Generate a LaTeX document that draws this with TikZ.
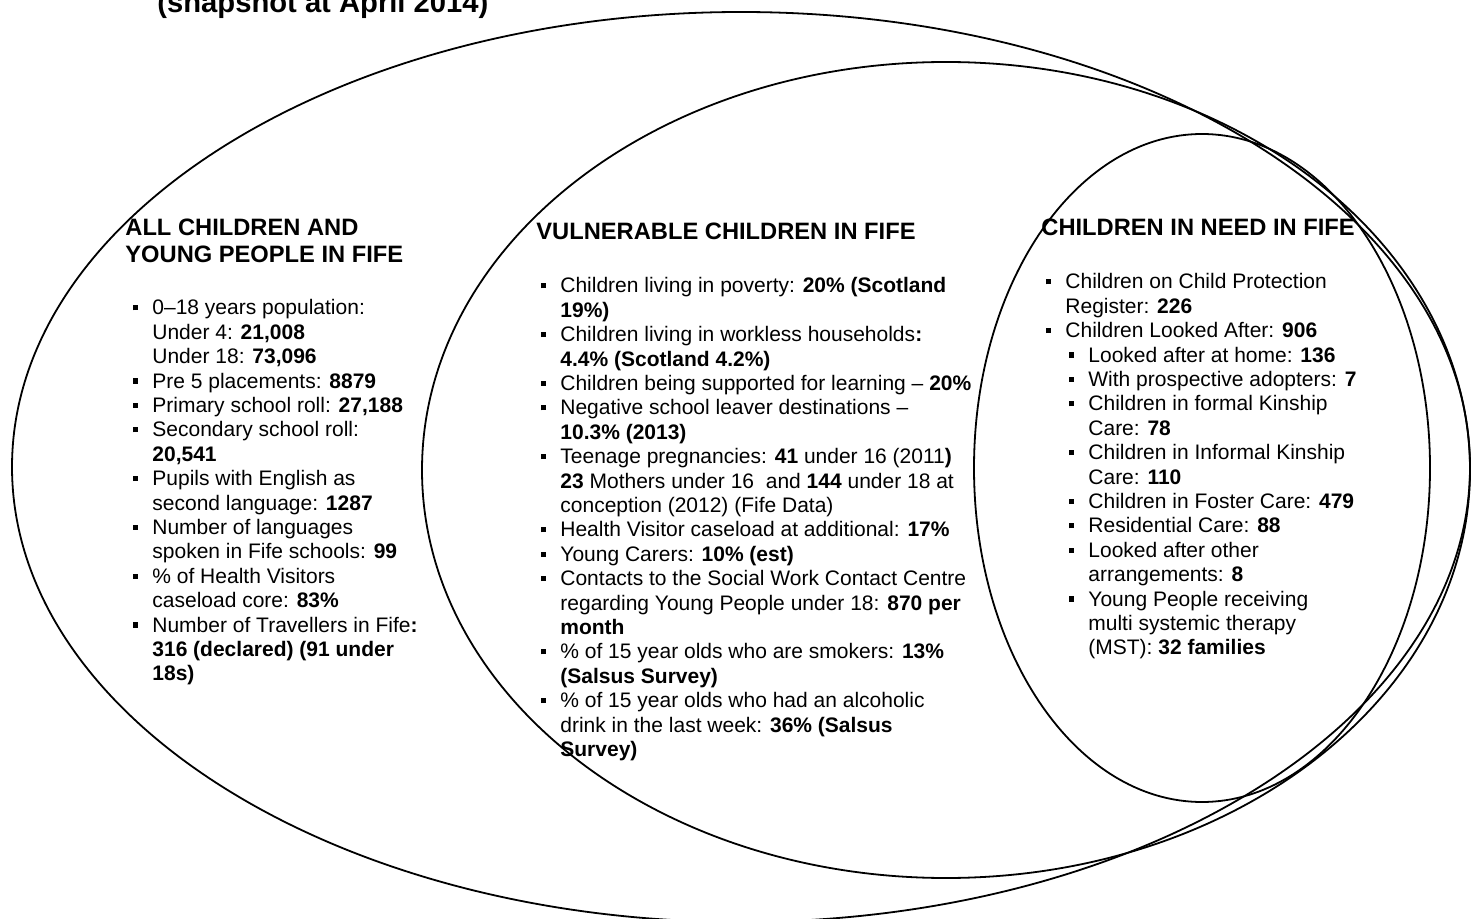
\documentclass[tikz,border=0pt]{standalone}
\usepackage{fontspec}
\setmainfont{Liberation Sans}
\newcommand{\bl}{\leavevmode\llap{\rule[2.3pt]{2.6pt}{2.6pt}\hspace{7.3pt}}}
\newcommand{\subin}{\hspace*{11.5pt}}
\begin{document}
\begin{tikzpicture}[x=0.5pt,y=-0.5pt,
  ring/.style={line width=0.9pt},
  bodytext/.style={anchor=base west, inner sep=0pt, font=\fontsize{10.5}{12.2}\selectfont},
  headtext/.style={anchor=base west, inner sep=0pt, font=\bfseries\fontsize{11.85}{13.5}\selectfont}]
\clip (0,0) rectangle (1472,919);
\fill[white] (0,0) rectangle (1472,919);
% ellipses
\draw[ring] (741,467) ellipse [x radius=364.5pt, y radius=227.5pt];
\draw[ring] (946,470) ellipse [x radius=262pt, y radius=204pt];
\draw[ring] (1202,468) ellipse [x radius=114pt, y radius=167pt];
% title
\node[anchor=base west, inner sep=0pt, font=\bfseries\fontsize{14.6}{17}\selectfont] (title) at (157,13) {(snapshot at April 2014)};
% headings
\node[headtext] (hall) at (125,236) {\parbox[t]{200pt}{\raggedright ALL CHILDREN AND\\YOUNG PEOPLE IN FIFE}};
\node[headtext] (hvul) at (536,240) {VULNERABLE CHILDREN IN FIFE};
\node[headtext] (hneed) at (1041,236) {CHILDREN IN NEED IN FIFE};
% left list
\node[bodytext] (lall) at (152,315) {\parbox[t]{170pt}{\raggedright
\bl 0–18 years population:\\
Under 4: \textbf{21,008}\\
Under 18: \textbf{73,096}\\
\bl Pre 5 placements: \textbf{8879}\\
\bl Primary school roll: \textbf{27,188}\\
\bl Secondary school roll:\\
\textbf{20,541}\\
\bl Pupils with English as\\
second language: \textbf{1287}\\
\bl Number of languages\\
spoken in Fife schools: \textbf{99}\\
\bl \% of Health Visitors\\
caseload core: \textbf{83\%}\\
\bl Number of Travellers in Fife\textbf{:}\\
\textbf{316 (declared) (91 under}\\
\textbf{18s)}}};
% middle list
\node[bodytext] (lvul) at (560,293) {\parbox[t]{240pt}{\raggedright
\bl Children living in poverty: \textbf{20\% (Scotland}\\
\textbf{19\%)}\\
\bl Children living in workless households\textbf{:}\\
\textbf{4.4\% (Scotland 4.2\%)}\\
\bl Children being supported for learning – \textbf{20\%}\\
\bl Negative school leaver destinations –\\
\textbf{10.3\% (2013)}\\
\bl Teenage pregnancies: \textbf{41} under 16 (2011\textbf{)}\\
\textbf{23} Mothers under 16\ \ and \textbf{144} under 18 at\\
conception (2012) (Fife Data)\\
\bl Health Visitor caseload at additional: \textbf{17\%}\\
\bl Young Carers: \textbf{10\% (est)}\\
\bl Contacts to the Social Work Contact Centre\\
regarding Young People under 18: \textbf{870 per}\\
\textbf{month}\\
\bl \% of 15 year olds who are smokers: \textbf{13\%}\\
\textbf{(Salsus Survey)}\\
\bl \% of 15 year olds who had an alcoholic\\
drink in the last week: \textbf{36\% (Salsus}\\
\textbf{Survey)}}};
% right list
\node[bodytext] (lneed) at (1065,289) {\parbox[t]{180pt}{\raggedright
\bl Children on Child Protection\\
Register: \textbf{226}\\
\bl Children Looked After: \textbf{906}\\
\subin\bl Looked after at home: \textbf{136}\\
\subin\bl With prospective adopters: \textbf{7}\\
\subin\bl Children in formal Kinship\\
\subin Care: \textbf{78}\\
\subin\bl Children in Informal Kinship\\
\subin Care: \textbf{110}\\
\subin\bl Children in Foster Care: \textbf{479}\\
\subin\bl Residential Care: \textbf{88}\\
\subin\bl Looked after other\\
\subin arrangements: \textbf{8}\\
\subin\bl Young People receiving\\
\subin multi systemic therapy\\
\subin (MST): \textbf{32 families}}};
\end{tikzpicture}
\end{document}
